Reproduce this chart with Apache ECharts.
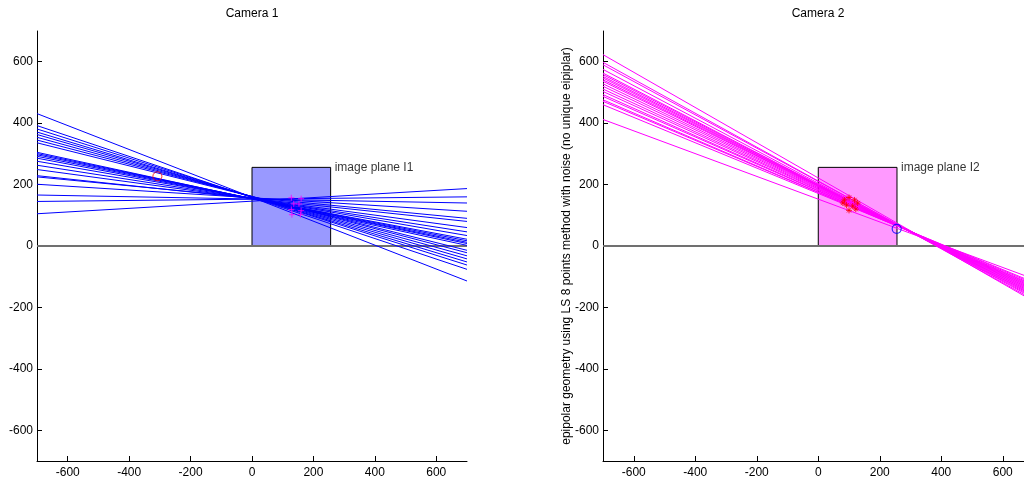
<!DOCTYPE html>
<html>
<head>
<meta charset="utf-8">
<script src="https://cdn.jsdelivr.net/npm/echarts@6/dist/echarts.min.js"></script>
<style>html,body{margin:0;padding:0;background:#fff}#c{width:1024px;height:479px}</style>
</head>
<body>
<div id="c"></div>
<script>
// ---- data ----
const titles = ['Camera 1', 'Camera 2'];
const yAxisName2 = 'epipolar geometry using LS 8 points method with noise (no unique eipiplar)';
const tickValues = [-600, -400, -200, 0, 200, 400, 600];
const axisRange1 = [-700, 700];
const axisRange2x = [-700, 669];   // right panel is cut off by the window edge
const lineEndsX = [-700, 700];
// camera 1 epipolar lines: y at x=-700 and y at x=700
const cam1StartY = [431, 392, 381, 371, 363, 354, 345, 336, 305, 301, 297, 292, 286, 276, 263, 249, 229, 225, 201, 166, 145, 105];
const cam1EndY   = [-114, -76, -62, -52, -42, -32, -22, -14, 2, 8, 12, 17, 22, 34, 46, 60, 80, 90, 113, 140, 160, 187];
// camera 2 epipolar lines
const cam2StartY = [623, 598, 590, 575, 563, 558, 552, 547, 541, 536, 528, 520, 511, 503, 493, 487, 476, 471, 460, 412];
const cam2EndY   = [-180, -175, -170, -166, -162, -159, -156, -153, -150, -147, -144, -141, -138, -135, -132, -129, -126, -122, -118, -107];
const imagePlane = [0, 256];
const planeLabels = ['image plane I1', 'image plane I2'];
const cam1Circle = [[-308, 227]];
const cam1Points = [[128, 157], [160, 154], [136, 137], [153, 137], [128, 119], [160, 115], [130, 102], [158, 102]];
const cam2Points = [[85, 150], [100, 158], [118, 150], [128, 140], [92, 133], [112, 130], [122, 120], [100, 116], [80, 140]];
const cam2Circle = [[255, 56]];

// ---- chart ----
const plus = 'path://M0,-1L0,1M-1,0L1,0';
const star = 'path://M0,-1L0,1M-1,0L1,0M-0.7,-0.7L0.7,0.7M-0.7,0.7L0.7,-0.7';
const font = 'Arial, "Liberation Sans", sans-serif';

function xAxis(gi, range) {
  return {
    type: 'value', gridIndex: gi, min: range[0], max: range[1],
    axisLine: {onZero: false, lineStyle: {color: '#000', width: 1}},
    axisTick: {inside: true, length: 5, customValues: tickValues, lineStyle: {color: '#000'}},
    axisLabel: {customValues: tickValues, color: '#000', fontSize: 12, fontFamily: font, margin: 6},
    splitLine: {show: false}
  };
}
function yAxis(gi, name) {
  return {
    type: 'value', gridIndex: gi, min: axisRange1[0], max: axisRange1[1],
    name: name || '', nameLocation: 'middle', nameGap: 30, nameMoveOverlap: false,
    nameTextStyle: {color: '#000', fontSize: 12, fontFamily: font},
    axisLine: {onZero: false, lineStyle: {color: '#000', width: 1}},
    axisTick: {inside: true, length: 5, customValues: tickValues, lineStyle: {color: '#000'}},
    axisLabel: {customValues: tickValues, color: '#000', fontSize: 12, fontFamily: font, margin: 4},
    splitLine: {show: false}
  };
}

const series = [];
function addPlot(gi, starts, ends, color, fill, label) {
  series.push({
    type: 'line', xAxisIndex: gi, yAxisIndex: gi, data: [], z: 1, silent: true,
    markArea: {
      silent: true,
      itemStyle: {color: fill, borderColor: '#000', borderWidth: 1, opacity: 1},
      data: [[{coord: [imagePlane[0], imagePlane[0]]}, {coord: [imagePlane[1], imagePlane[1]]}]]
    }
  });
  series.push({
    type: 'line', xAxisIndex: gi, yAxisIndex: gi, z: 2, silent: true, symbol: 'none',
    data: [[lineEndsX[0], 0], [lineEndsX[1], 0]],
    lineStyle: {color: '#707070', width: 2}
  });
  for (let i = 0; i < starts.length; i++) {
    series.push({
      type: 'line', xAxisIndex: gi, yAxisIndex: gi, z: 3, silent: true, symbol: 'none',
      data: [[lineEndsX[0], starts[i]], [lineEndsX[1], ends[i]]],
      lineStyle: {color: color, width: 1}
    });
  }
  series.push({
    type: 'scatter', xAxisIndex: gi, yAxisIndex: gi, z: 5, silent: true, symbolSize: 0,
    data: [[imagePlane[1], imagePlane[1]]],
    label: {show: true, position: 'right', distance: 4, formatter: label, color: '#000', fontSize: 12, fontFamily: font}
  });
}
addPlot(0, cam1StartY, cam1EndY, '#0000ff', '#9999ff', planeLabels[0]);
addPlot(1, cam2StartY, cam2EndY, '#ff00ff', '#ff99ff', planeLabels[1]);

series.push({
  type: 'scatter', xAxisIndex: 0, yAxisIndex: 0, z: 6, silent: true, data: cam1Circle,
  symbol: 'circle', symbolSize: 9, itemStyle: {color: 'rgba(0,0,0,0)', borderColor: '#ff0000', borderWidth: 1}
});
series.push({
  type: 'scatter', xAxisIndex: 0, yAxisIndex: 0, z: 6, silent: true, data: cam1Points,
  symbol: plus, symbolSize: 6, itemStyle: {color: 'rgba(0,0,0,0)', borderColor: '#ff00ff', borderWidth: 1}
});
series.push({
  type: 'scatter', xAxisIndex: 1, yAxisIndex: 1, z: 6, silent: true, data: cam2Points,
  symbol: star, symbolSize: 6, itemStyle: {color: 'rgba(0,0,0,0)', borderColor: '#ff0000', borderWidth: 1}
});
series.push({
  type: 'scatter', xAxisIndex: 1, yAxisIndex: 1, z: 6, silent: true, data: cam2Circle,
  symbol: 'circle', symbolSize: 9, itemStyle: {color: 'rgba(0,0,0,0)', borderColor: '#0000ff', borderWidth: 1.2}
});

const chart = echarts.init(document.getElementById('c'), null, {renderer: 'canvas'});
chart.setOption({
  animation: false,
  backgroundColor: '#fff',
  title: [
    {text: titles[0], left: 247, top: 3, textAlign: 'center', textStyle: {fontSize: 12, fontWeight: 'normal', color: '#000', fontFamily: font}},
    {text: titles[1], left: 813, top: 3, textAlign: 'center', textStyle: {fontSize: 12, fontWeight: 'normal', color: '#000', fontFamily: font}}
  ],
  grid: [
    {left: 37, top: 31, width: 430, height: 430, containLabel: false},
    {left: 603, top: 31, width: 421, height: 430, containLabel: false}
  ],
  xAxis: [xAxis(0, axisRange1), xAxis(1, axisRange2x)],
  yAxis: [yAxis(0), yAxis(1, yAxisName2)],
  series: series
});
</script>
</body>
</html>
